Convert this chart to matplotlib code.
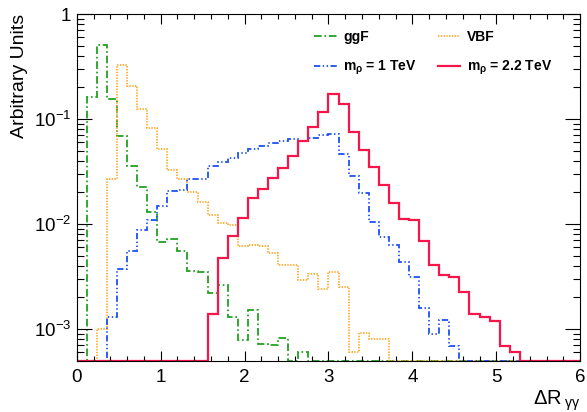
import numpy as np
import matplotlib
matplotlib.use("Agg")
import matplotlib.pyplot as plt
from matplotlib.ticker import LogLocator, FuncFormatter, MultipleLocator

plt.rcParams['font.family'] = ['Liberation Sans', 'DejaVu Sans']
plt.rcParams['mathtext.fontset'] = 'custom'
plt.rcParams['mathtext.rm'] = 'Liberation Sans'
plt.rcParams['mathtext.it'] = 'Liberation Sans:italic'
plt.rcParams['mathtext.bf'] = 'Liberation Sans:bold'
plt.rcParams['lines.scale_dashes'] = False

# binning: 50 bins between 0 and 6
edges = np.linspace(0, 6, 51)

# contenu des bins
ggf = [0, 0.163, 0.507, 0.155, 0.069, 0.036, 0.0227, 0.0131, 0.0068, 0.0072,
       0.0055, 0.0036, 0.0035, 0.0022, 0.0026, 0.0013, 0.00079, 0.0015, 0.00072, 0.0007,
       0.00082, 0, 0.0006, 0, 0, 0, 0, 0, 0, 0,
       0, 0, 0, 0, 0, 0, 0, 0, 0, 0,
       0, 0, 0, 0, 0, 0, 0, 0, 0, 0]
vbf = [0, 0, 0.001, 0.0266, 0.327, 0.206, 0.125, 0.0815, 0.0518, 0.0327,
       0.0267, 0.0201, 0.0163, 0.0123, 0.0102, 0.0098, 0.0062, 0.0063, 0.0061, 0.0053,
       0.0041, 0.0041, 0.0029, 0.0033, 0.0024, 0.0035, 0.0025, 0.0006, 0.00091, 0.00081,
       0.00081, 0, 0, 0, 0, 0, 0, 0, 0, 0,
       0, 0, 0, 0, 0, 0, 0, 0, 0, 0]
rho1 = [0, 0, 0, 0.00131, 0.00371, 0.00556, 0.00877, 0.0109, 0.0147, 0.0208,
        0.021, 0.0267, 0.0267, 0.0353, 0.039, 0.0423, 0.0478, 0.0515, 0.0547, 0.0595,
        0.0622, 0.064, 0.0617, 0.0655, 0.0704, 0.072, 0.0464, 0.0286, 0.0196, 0.0105,
        0.00757, 0.0063, 0.00438, 0.00315, 0.00157, 0.0009, 0.00122, 0.00069, 0, 0,
        0, 0, 0, 0, 0, 0, 0, 0, 0, 0]
rho22 = [0, 0, 0, 0, 0, 0, 0, 0, 0, 0,
         0, 0, 0, 0.00139, 0.00471, 0.00774, 0.0115, 0.0178, 0.0214, 0.0276,
         0.0344, 0.0444, 0.0617, 0.0834, 0.117, 0.173, 0.139, 0.0747, 0.0507, 0.0347,
         0.0235, 0.0157, 0.0111, 0.011, 0.00694, 0.00407, 0.00327, 0.00315, 0.00224, 0.0014,
         0.00129, 0.0012, 0.00069, 0.0006, 0, 0, 0, 0, 0, 0]

ymin, ymax = 5e-4, 1.0

fig = plt.figure(figsize=(5.87, 4.12), dpi=100)
ax = fig.add_axes([0.1307, 0.125, 0.8578, 0.841])

# les bins vides sont dessinés sur l'axe du bas, comme ROOT
def clamp(v):
    return np.maximum(np.array(v, dtype=float), ymin)

ax.stairs(clamp(ggf), edges, color='#22a022', lw=1.3, ls=(0, (5.5, 2, 1.2, 2)),
          baseline=None, label='ggF')
ax.stairs(clamp(vbf), edges, color='#ffab2e', lw=1.3, ls=(0, (1, 1)),
          baseline=None, label='VBF')
ax.stairs(clamp(rho1), edges, color='#1e50f0', lw=1.3, ls=(0, (4.5, 1.8, 1, 1.8, 1, 1.8)),
          baseline=None, label=r'$\mathbf{m_{\rho}}$ = 1 TeV')
ax.stairs(clamp(rho22), edges, color='#f5164a', lw=1.6,
          baseline=None, label=r'$\mathbf{m_{\rho}}$ = 2.2 TeV')

ax.set_yscale('log')
ax.set_xlim(0, 6)
ax.set_ylim(ymin, ymax)

# ticks style ROOT
ax.xaxis.set_major_locator(MultipleLocator(1))
ax.xaxis.set_minor_locator(MultipleLocator(0.2))
ax.yaxis.set_major_locator(LogLocator(base=10, numticks=10))
ax.yaxis.set_minor_locator(LogLocator(base=10, subs=np.arange(2, 10), numticks=20))
ax.yaxis.set_minor_formatter(FuncFormatter(lambda v, p: ''))

def fmt_log(v, pos):
    e = int(round(np.log10(v)))
    if e == 0:
        return '1'
    return r'$10^{%d}$' % e
ax.yaxis.set_major_formatter(FuncFormatter(fmt_log))

ax.tick_params(which='both', direction='in', top=True, right=True, labelsize=13.5)
ax.tick_params(axis='x', which='major', length=7.5, width=0.8, pad=6)
ax.tick_params(axis='x', which='minor', length=3.8, width=0.8)
ax.tick_params(axis='y', which='major', length=10.5, width=0.8, pad=4)
ax.tick_params(axis='y', which='minor', length=5, width=0.8)
for s in ax.spines.values():
    s.set_linewidth(0.8)

ax.set_xlabel(r'$\Delta$R$_{\;\mathrm{\gamma\gamma}}$', fontsize=14.5, loc='right', labelpad=2)
ax.set_ylabel('Arbitrary Units', fontsize=14, loc='top', labelpad=4)

handles, labels = ax.get_legend_handles_labels()
order = [0, 2, 1, 3]
ax.legend([handles[i] for i in order], [labels[i] for i in order], ncol=2,
          frameon=False, loc='upper left', bbox_to_anchor=(0.447, 0.99),
          prop={'weight': 'bold', 'size': 10}, handlelength=1.6, handletextpad=0.5,
          columnspacing=1.5, labelspacing=1.05)

fig.savefig('out.png', dpi=100)
